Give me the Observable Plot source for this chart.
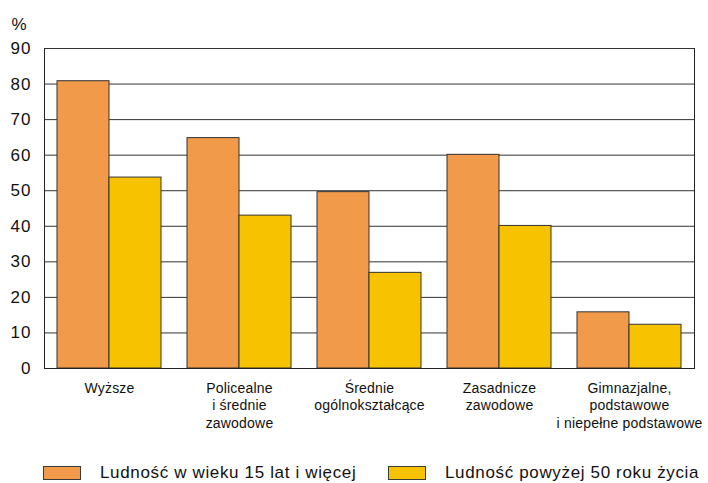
<!DOCTYPE html>
<html>
<head>
<meta charset="utf-8">
<script src="https://cdn.jsdelivr.net/npm/d3@7"></script>
<script src="https://cdn.jsdelivr.net/npm/@observablehq/plot@0.6"></script>
<style>
  body { margin: 0; background: #fff; font-family: "Liberation Sans", Arial, sans-serif; }
  #chart { width: 708px; }
  #legend { position: relative; width: 708px; height: 43px; font-size: 17px; letter-spacing: 0.65px; color: #111; }
  .item { position: absolute; top: 26px; display: flex; align-items: center; white-space: nowrap; }
  .sw { width: 36px; height: 12px; border: 1px solid #3a3a3a; margin-right: 19px; }
  .item span { line-height: 14px; }
  .ylab text { letter-spacing: 1px; }
  .fxlab text { letter-spacing: 0.2px; }
</style>
</head>
<body>
<div id="chart"></div>
<div id="legend"></div>
<script>
const categories = [
  "Wyższe",
  "Policealne\ni średnie\nzawodowe",
  "Średnie\nogólnokształcące",
  "Zasadnicze\nzawodowe",
  "Gimnazjalne,\npodstawowe\ni niepełne podstawowe"
];
const series = ["Ludność w wieku 15 lat i więcej", "Ludność powyżej 50 roku życia"];
const valuesAll = [80.8, 64.8, 49.6, 60.1, 15.8];
const values50 = [53.7, 43.0, 26.9, 40.1, 12.3];
const colors = ["#F09A4A", "#F7C300"];
const yTicks = [0, 10, 20, 30, 40, 50, 60, 70, 80, 90];

const data = [];
categories.forEach((c, i) => {
  data.push({cat: c, series: series[0], value: valuesAll[i]});
  data.push({cat: c, series: series[1], value: values50[i]});
});

const chart = Plot.plot({
  width: 708,
  height: 440,
  marginLeft: 43,
  marginRight: 13,
  marginTop: 48,
  marginBottom: 72,
  style: {fontFamily: "'Liberation Sans', Arial, sans-serif", color: "#111", background: "#fff"},
  fx: {domain: categories, padding: 0, label: null},
  x: {domain: series, axis: null, paddingInner: 0, paddingOuter: 0.23},
  y: {domain: [0, 90], label: null},
  color: {domain: series, range: colors},
  marks: [
    Plot.gridY({ticks: yTicks, stroke: "#333", strokeOpacity: 1}),
    Plot.barY(data, {fx: "cat", x: "series", y: "value", fill: "series", stroke: "#333", strokeWidth: 1}),
    Plot.ruleY([0], {stroke: "#222"}),
    Plot.frame({anchor: "left", facetAnchor: "left", stroke: "#222"}),
    Plot.frame({anchor: "right", facetAnchor: "right", stroke: "#222"}),
    Plot.axisY({ticks: yTicks, tickSize: 0, tickPadding: 13, fontSize: 17, label: null, tickFormat: d => String(d), className: "ylab"}),
    Plot.axisFx({anchor: "bottom", tickSize: 0, tickPadding: 12, fontSize: 14, lineHeight: 1.25, label: null, className: "fxlab"}),
    Plot.text(["%"], {fx: () => categories[0], frameAnchor: "top-left", textAnchor: "start", dx: -33, dy: -31, fontSize: 17, fill: "#111"})
  ]
});
document.getElementById("chart").appendChild(chart);

const legend = document.getElementById("legend");
const lefts = [43, 388];
series.forEach((s, i) => {
  const it = document.createElement("div");
  it.className = "item";
  it.style.left = lefts[i] + "px";
  const sw = document.createElement("div");
  sw.className = "sw";
  sw.style.background = colors[i];
  const t = document.createElement("span");
  t.textContent = s;
  it.appendChild(sw);
  it.appendChild(t);
  legend.appendChild(it);
});
</script>
</body>
</html>
